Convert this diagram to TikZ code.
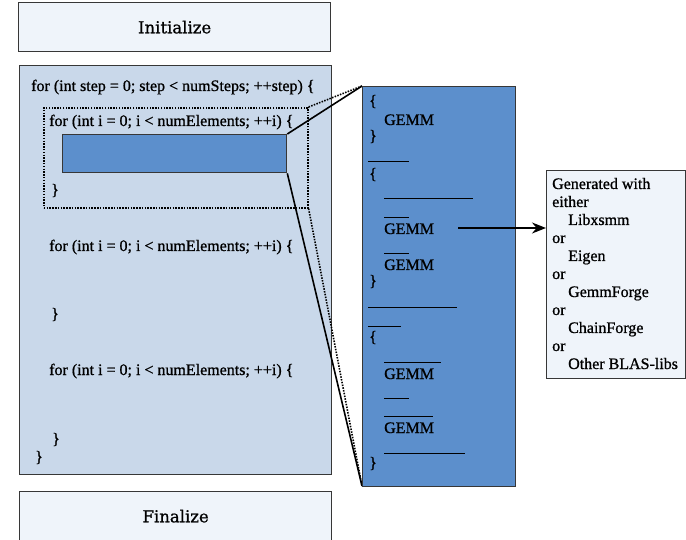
\documentclass[tikz,border=0pt]{standalone}
\usepackage{fontspec}
\setmainfont{Liberation Serif}[FakeBold=0.9]
\newfontfamily\headfont{DejaVu Serif}[FakeBold=0.9]
\usepackage{xcolor}
\usepackage{tikz}
\usetikzlibrary{arrows.meta}

\begin{document}
\begin{tikzpicture}[
    >={Stealth[length=14pt,width=11pt]},
    line join=miter,
    x=1pt,
    y=-1pt,
    font=\fontsize{16}{18}\selectfont
]

% =========================================================
% Colors
% =========================================================
\definecolor{stagefill}{RGB}{239,244,250}
\definecolor{loopfill}{RGB}{201,216,234}
\definecolor{kernelblue}{RGB}{92,143,204}
\definecolor{framegray}{RGB}{55,55,55}

% =========================================================
% Styles
% =========================================================
\tikzset{
    boxframe/.style={draw=framegray,line width=1.3pt,inner sep=0pt,anchor=north west},
    stagebox/.style={boxframe,fill=stagefill,minimum width=312pt,minimum height=49pt,
        font=\headfont\fontsize{16.5}{18}\selectfont},
    codeline/.style={anchor=base west,inner sep=0pt},
    dotline/.style={line width=1.6pt,dash pattern=on 1.5pt off 1.3pt},
    zoomline/.style={line width=1.6pt},
    barline/.style={line width=0.9pt}
}

\useasboundingbox (0,0) rectangle (686,540);

% =========================================================
% Stages
% =========================================================
\node[stagebox] (init) at (18,2) {Initialize};
\node[boxframe,fill=loopfill,minimum width=312pt,minimum height=409pt] (loop) at (19,65) {};
\node[stagebox] (final) at (19,491) {Finalize};

% code of the time loop
\node[codeline] (steploop) at (31,91) {for (int step = 0; step < numSteps; ++step) \{};
\node[codeline] (elemloopa) at (49,126) {for (int i = 0; i < numElements; ++i) \{};
\node[codeline] (closea) at (51,195) {\}};
\node[codeline] (elemloopb) at (49,251) {for (int i = 0; i < numElements; ++i) \{};
\node[codeline] (closeb) at (51,319) {\}};
\node[codeline] (elemloopc) at (49,375) {for (int i = 0; i < numElements; ++i) \{};
\node[codeline] (closec) at (52,444) {\}};
\node[codeline] (closestep) at (35,462) {\}};

% highlighted element loop and its kernel call
\node[draw=black,dotline,anchor=north west,inner sep=0pt,
    minimum width=264pt,minimum height=100pt] (dotbox) at (43,107) {};
\node[boxframe,fill=kernelblue,minimum width=224pt,minimum height=38pt] (callbox) at (62,134) {};

% =========================================================
% Zoom onto the kernel
% =========================================================
\draw[dotline] (dotbox.north east) -- (362,86);
\draw[dotline] (dotbox.south east) -- (362,486);
\draw[zoomline] (callbox.north east) -- (362,86);
\draw[zoomline] (callbox.south east) -- (362,486);

\node[boxframe,fill=kernelblue,minimum width=153pt,minimum height=400pt] (kernel) at (362,86) {};

% braces
\foreach \name/\yy/\brace in {ka/106/\{,kb/141/\},kc/179/\{,kd/286/\},ke/342/\{,kf/468/\}}
    \node[codeline] (\name) at (369,\yy) {\brace};

% gemm calls
\foreach \name/\yy in {gemma/125,gemmb/234,gemmc/270,gemmd/379,gemme/433}
    \node[codeline] (\name) at (384,\yy) {GEMM};

% bars
\foreach \xa/\xb/\yy in {368/409/161,384/473/198,384/409/217,384/409/253,368/457/307,
    368/401/326,384/441/362,384/409/398,384/433/416,384/465/453}
    \draw[barline] (\xa,\yy) -- (\xb,\yy);

% =========================================================
% Libraries
% =========================================================
\node[boxframe,fill=stagefill,minimum width=139pt,minimum height=208pt] (libbox) at (546,170) {};

\foreach \k/\xx/\txt in {0/552/Generated with,1/552/either,2/568/Libxsmm,3/552/or,
    4/568/Eigen,5/552/or,6/568/GemmForge,7/552/or,8/568/ChainForge,9/552/or,
    10/568/Other BLAS-libs}
    \node[codeline] (lib\k) at (\xx,189+18*\k) {\txt};

\coordinate (callout) at ([xshift=24pt]gemmb.east);
\draw[->,line width=1.5pt] (callout |- 0,228) -- (libbox.west |- 0,228);

\end{tikzpicture}
\end{document}
